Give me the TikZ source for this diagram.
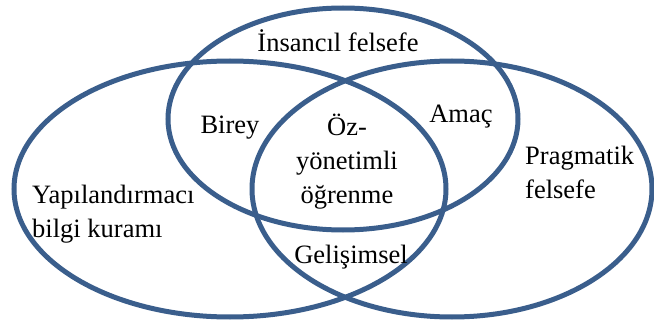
\documentclass[tikz,border=0pt]{standalone}
\usepackage{fontspec}
\setmainfont{Liberation Serif}
\definecolor{ringblue}{RGB}{58,94,140}
\begin{document}
\begin{tikzpicture}[x=1pt,y=-1pt,
  ring/.style={draw=ringblue,line width=5pt},
  lbl/.style={inner sep=0pt,font=\fontsize{26.5}{34}\selectfont},
  lblc/.style={lbl,align=center},
  lbll/.style={lbl,align=left}]
\useasboundingbox (0,0) rectangle (654,321);
% three overlapping sets
\draw[ring] (343,119) ellipse [x radius=175, y radius=111];
\draw[ring] (230,189) ellipse [x radius=216, y radius=128];
\draw[ring] (452,189) ellipse [x radius=200, y radius=128];
% set and overlap labels
\node[lbl,anchor=base] (hum) at (338,52) {İnsancıl felsefe};
\node[lbl,anchor=base] (ind) at (230,133) {Birey};
\node[lbl,anchor=base] (aim) at (461,122) {Amaç};
\node[lbl,anchor=base] (dev) at (351,263) {Gelişimsel};
\node[lblc,anchor=north] (sdl) at (347,114) {Öz-\\yönetimli\\öğrenme};
\node[lbll,anchor=north west] (con) at (32,185) {Yapılandırmacı\\bilgi kuramı};
\node[lbll,anchor=north west] (prg) at (525,146) {Pragmatik\\felsefe};
\end{tikzpicture}
\end{document}
